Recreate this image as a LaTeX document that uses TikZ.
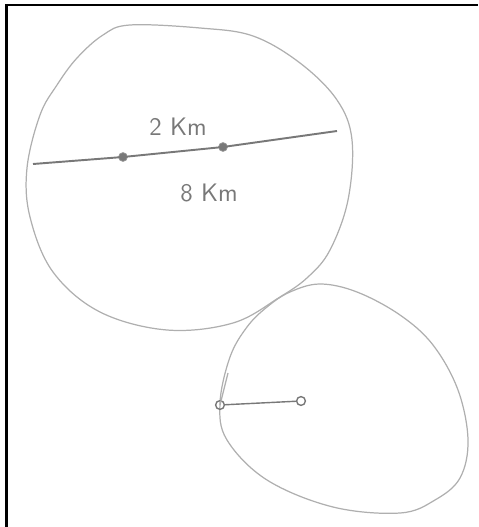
\documentclass[tikz,border=0pt]{standalone}
\usepackage{tikz}
\usepackage{xcolor}
\usetikzlibrary{positioning, calc}
\definecolor{pencilGray}{RGB}{175,175,175}
\definecolor{pencilDark}{RGB}{120,120,120}
\definecolor{frameBlack}{RGB}{0,0,0}
\tikzset{
    outline/.style={draw=pencilGray, line width=0.7pt},
    radius line/.style={draw=pencilDark, line width=1.1pt},
    dotmark/.style={circle, fill=pencilDark, draw=pencilDark!80, inner sep=0pt, minimum size=5pt},
    ringmark/.style={circle, draw=pencilDark, inner sep=0pt, minimum size=5pt, line width=0.8pt},
    handtext/.style={text=pencilDark, font=\Large\sffamily},
    framebar/.style={draw=frameBlack, line width=1.6pt}
}
\begin{document}
\begin{tikzpicture}[x=0.02cm, y=-0.02cm]
            \useasboundingbox (0,0) rectangle (478,527);
            % frame, left and top only
            \coordinate (fbl) at (6.5,527);
            \coordinate (ftl) at (6.5,5);
            \coordinate (ftr) at (478,5);
            \draw[framebar] (fbl) -- (ftl) -- (ftr);
            % big circle
            \draw[outline] plot[smooth cycle, tension=0.6] coordinates {
                (130,25) (200,28) (253,36) (300,63) (337,100) (352,140) (348,200)
                (330,250) (308,277) (280,297) (233,323) (167,330) (100,312) (53,272)
                (30,217) (27,168) (40,115) (57,85) (77,58) (103,35)};
            % small circle
            \draw[outline] plot[smooth cycle, tension=0.6] coordinates {
                (220,403) (230,357) (247,327) (267,307) (290,292) (320,284) (357,292)
                (400,315) (433,345) (458,390) (468,440) (460,478) (435,500) (400,513)
                (333,507) (267,480) (227,440)};
            % diameter of the big one
            \coordinate (dl) at (33,164);
            \node[dotmark] (pa) at (123,157) {};
            \node[dotmark] (pb) at (223,147) {};
            \coordinate (dr) at (337,131);
            \draw[radius line] (dl) -- (pa.center) -- (pb.center) -- (dr);
            \node[handtext] (lbltwo) at (178,127) {2 Km};
            \node[handtext] (lbleight) at (209,193) {8 Km};
            % radius of the small one
            \node[ringmark] (qa) at (220,405) {};
            \node[ringmark] (qb) at (301,401) {};
            \coordinate (qt) at (228,373);
            \draw[radius line, line width=0.8pt] (qa) -- (qb);
            \draw[outline] (qa.center) -- (qt);
        \end{tikzpicture}
\end{document}
